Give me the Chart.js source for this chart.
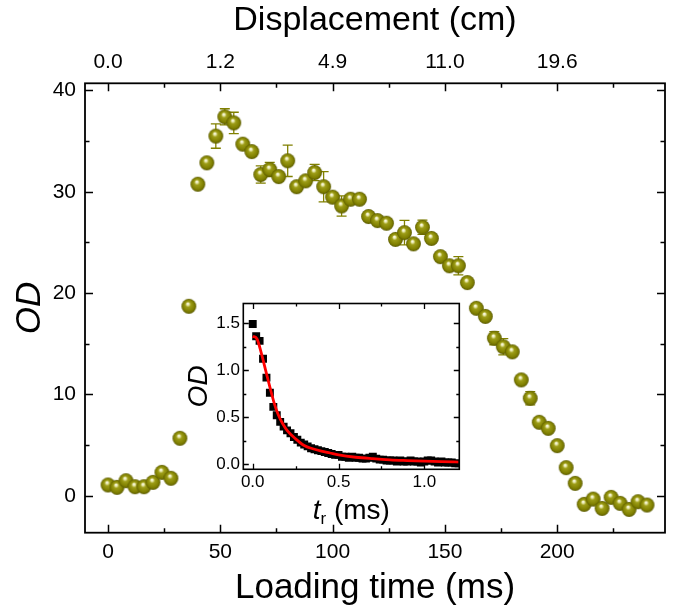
<!DOCTYPE html>
<html><head><meta charset="utf-8">
<script src="https://cdn.jsdelivr.net/npm/chart.js@4/dist/chart.umd.min.js"></script>
<style>
html,body{margin:0;padding:0;background:#fff;}
#wrap{position:relative;width:674px;height:610px;overflow:hidden;}
#main{position:absolute;left:0;top:0;}
#inset{position:absolute;left:180px;top:290px;}
</style></head><body>
<div id="wrap"><canvas id="main" width="674" height="610"></canvas><canvas id="inset" width="295" height="245"></canvas></div>
<script>
// ---------- data ----------
const loadingTime = [0,4,8,12,16,20,24,28,32,36,40,44,48,52,56,60,64,68,72,76,80,84,88,92,96,100,104,108,112,116,120,124,128,132,136,140,144,148,152,156,160,164,168,172,176,180,184,188,192,196,200,204,208,212,216,220,224,228,232,236,240];
const odValues = [1.06,0.83,1.48,0.89,0.89,1.32,2.31,1.72,5.67,18.7,30.75,32.86,35.5,37.4,36.8,34.7,33.97,31.7,32.2,31.5,33.06,30.5,31.08,31.9,30.5,29.47,28.6,29.27,29.27,27.56,27.16,26.9,25.3,25.97,24.86,26.5,25.4,23.6,22.7,22.7,21.04,18.5,17.7,15.55,14.7,14.2,11.43,9.62,7.25,6.65,4.94,2.77,1.22,-0.85,-0.33,-1.25,-0.16,-0.75,-1.35,-0.59,-0.92];
const odErrors = [0.3,0.3,0.3,0.3,0.3,0.3,0.3,0.3,0.3,0.3,0.3,0.3,1.2,0.8,1.05,0.3,0.3,0.85,0.7,0.3,1.55,0.3,0.3,0.8,1.5,0.3,1.0,0.3,0.3,0.3,0.3,0.3,0.3,1.2,0.3,0.7,0.3,0.3,0.3,0.9,0.3,0.3,0.3,0.65,0.8,0.3,0.3,0.65,0.3,0.3,0.3,0.3,0.3,0.3,0.3,0.3,0.3,0.3,0.3,0.3,0.3];
const xTicks = [0,50,100,150,200];
const xMinorTicks = [25,75,125,175,225];
const displacementLabels = ['0.0','1.2','4.9','11.0','19.6'];
const yTicks = [0,10,20,30,40];
const yMinorTicks = [5,15,25,35];

const insetTime = [0,0.02,0.04,0.06,0.08,0.10,0.12,0.14,0.16,0.18,0.20,0.22,0.24,0.26,0.28,0.30,0.32,0.34,0.36,0.38,0.40,0.42,0.44,0.46,0.48,0.50,0.52,0.54,0.56,0.58,0.60,0.62,0.64,0.66,0.68,0.70,0.72,0.74,0.76,0.78,0.80,0.82,0.84,0.86,0.88,0.90,0.92,0.94,0.96,0.98,1.00,1.02,1.04,1.06,1.08,1.10,1.12,1.14,1.16,1.18,1.20];
const insetOD = [1.49,1.36,1.31,1.12,0.92,0.76,0.61,0.52,0.45,0.40,0.36,0.33,0.29,0.26,0.23,0.21,0.19,0.17,0.16,0.15,0.14,0.13,0.12,0.11,0.10,0.10,0.08,0.08,0.07,0.08,0.07,0.07,0.06,0.06,0.07,0.08,0.06,0.05,0.05,0.04,0.04,0.04,0.03,0.04,0.03,0.03,0.04,0.03,0.03,0.02,0.03,0.04,0.04,0.03,0.02,0.03,0.02,0.02,0.02,0.01,0.01];
const fitTime = [0,0.025,0.05,0.075,0.10,0.125,0.15,0.175,0.20,0.25,0.30,0.35,0.40,0.45,0.50,0.60,0.70,0.80,0.90,1.00,1.10,1.20];
const fitOD = [1.36,1.33,1.18,1.00,0.82,0.65,0.52,0.43,0.36,0.27,0.20,0.165,0.14,0.12,0.10,0.075,0.06,0.048,0.04,0.033,0.028,0.024];
const insetXTicks = [0,0.5,1.0];
const insetXMinorTicks = [0.25,0.75];
const insetYTicks = [0,0.5,1.0,1.5];
const insetYMinorTicks = [0.25,0.75,1.25];

// ---------- styles ----------
const FONT = "'Liberation Sans', Arial, sans-serif";
Chart.defaults.font.family = FONT;
Chart.defaults.color = '#000';
const OLIVE = '#808000';

function makeSphere(r) {
  const c = document.createElement('canvas');
  const s = Math.ceil(r * 2 + 2);
  c.width = s; c.height = s;
  const g = c.getContext('2d');
  const cx = s / 2, cy = s / 2;
  const grad = g.createRadialGradient(cx - 1.2, cy - 2.8, 0, cx, cy, r);
  grad.addColorStop(0, '#ffffff');
  grad.addColorStop(0.17, '#eaeab0');
  grad.addColorStop(0.36, '#9e9e18');
  grad.addColorStop(0.8, '#7e7e00');
  grad.addColorStop(1, '#5a5a00');
  g.fillStyle = grad;
  g.beginPath(); g.arc(cx, cy, r, 0, Math.PI * 2); g.fill();
  return c;
}
const sphere = makeSphere(7.4);

function frameAndTicks(chart, cfg) {
  const {ctx, chartArea: a} = chart;
  const xs = chart.scales[cfg.x], ys = chart.scales[cfg.y];
  ctx.save();
  ctx.strokeStyle = '#000';
  ctx.lineWidth = cfg.lw;
  ctx.beginPath();
  const xm = cfg.xMajor.map(v => [v, cfg.major]).concat(cfg.xMinor.map(v => [v, cfg.minor]));
  const ym = cfg.yMajor.map(v => [v, cfg.major]).concat(cfg.yMinor.map(v => [v, cfg.minor]));
  for (const [v, len] of xm) {
    const p = Math.round(xs.getPixelForValue(v)) + 0.5;
    ctx.moveTo(p, a.bottom); ctx.lineTo(p, a.bottom - len);
    ctx.moveTo(p, a.top); ctx.lineTo(p, a.top + len);
  }
  for (const [v, len] of ym) {
    const p = Math.round(ys.getPixelForValue(v)) + 0.5;
    ctx.moveTo(a.left, p); ctx.lineTo(a.left + len, p);
    ctx.moveTo(a.right, p); ctx.lineTo(a.right - len, p);
  }
  ctx.stroke();
  ctx.lineWidth = cfg.frame;
  ctx.strokeRect(a.left, a.top, a.right - a.left, a.bottom - a.top);
  ctx.restore();
}

const mainPlugin = {
  id: 'mainDeco',
  beforeDatasetsDraw(chart) {
    const {ctx} = chart;
    const xs = chart.scales.x, ys = chart.scales.y;
    ctx.save();
    ctx.strokeStyle = OLIVE; ctx.lineWidth = 1.3;
    ctx.beginPath();
    loadingTime.forEach((t, i) => {
      const e = odErrors[i];
      if (!e) return;
      const px = xs.getPixelForValue(t);
      const y1 = ys.getPixelForValue(odValues[i] + e), y2 = ys.getPixelForValue(odValues[i] - e);
      ctx.moveTo(px, y1); ctx.lineTo(px, y2);
      ctx.moveTo(px - 5, y1); ctx.lineTo(px + 5, y1);
      ctx.moveTo(px - 5, y2); ctx.lineTo(px + 5, y2);
    });
    ctx.stroke();
    ctx.restore();
  },
  afterDraw(chart) {
    frameAndTicks(chart, {x: 'x', y: 'y', xMajor: xTicks, xMinor: xMinorTicks, yMajor: yTicks, yMinor: yMinorTicks, major: 8, minor: 4.5, lw: 1.5, frame: 1.8});
  }
};

new Chart(document.getElementById('main'), {
  type: 'scatter',
  data: {datasets: [{
    data: loadingTime.map((t, i) => ({x: t, y: odValues[i]})),
    pointStyle: sphere, pointRadius: 7.4, showLine: false
  }]},
  options: {
    responsive: false, animation: false, events: [], devicePixelRatio: 1,
    layout: {padding: {left: 0, right: 9, top: 0, bottom: 0}},
    plugins: {legend: {display: false}, tooltip: {enabled: false}},
    scales: {
      x: {
        type: 'linear', position: 'bottom', min: -10.25, max: 248,
        afterBuildTicks: s => { s.ticks = xTicks.map(v => ({value: v})); },
        afterFit: s => { s.height = 77.3; },
        ticks: {font: {size: 21}, color: '#000', padding: 6.5, maxRotation: 0, autoSkip: false},
        grid: {display: false, drawTicks: false}, border: {display: false},
        title: {display: true, text: 'Loading time (ms)', font: {size: 35}, color: '#000', padding: {top: 0, bottom: 1}}
      },
      x2: {
        type: 'linear', position: 'top', min: -10.25, max: 248,
        afterBuildTicks: s => { s.ticks = xTicks.map(v => ({value: v})); },
        afterFit: s => { s.height = 83.3; },
        ticks: {font: {size: 21}, color: '#000', padding: 8, maxRotation: 0, autoSkip: false,
          callback: v => displacementLabels[xTicks.indexOf(v)]},
        grid: {display: false, drawTicks: false}, border: {display: false},
        title: {display: true, text: 'Displacement (cm)', font: {size: 34}, color: '#000', padding: {top: 0, bottom: 0}}
      },
      y: {
        type: 'linear', position: 'left', min: -3.65, max: 40.71,
        afterBuildTicks: s => { s.ticks = yTicks.map(v => ({value: v})); },
        afterFit: s => { s.width = 85; },
        ticks: {font: {size: 21}, color: '#000', padding: 9, autoSkip: false},
        grid: {display: false, drawTicks: false}, border: {display: false},
        title: {display: true, text: 'OD', font: {size: 35, style: 'italic'}, color: '#000', padding: {top: 9, bottom: 0}}
      }
    }
  },
  plugins: [mainPlugin]
});

// ---------- inset ----------
const insetPlugin = {
  id: 'insetDeco',
  beforeDraw(chart) {
    const {ctx, chartArea: a} = chart;
    ctx.save(); ctx.fillStyle = '#fff';
    ctx.fillRect(a.left, a.top, a.right - a.left, a.bottom - a.top);
    ctx.restore();
  },
  afterDraw(chart) {
    frameAndTicks(chart, {x: 'x', y: 'y', xMajor: insetXTicks, xMinor: insetXMinorTicks, yMajor: insetYTicks, yMinor: insetYMinorTicks, major: 5.5, minor: 3, lw: 1.3, frame: 1.6});
    const {ctx, chartArea: a} = chart;
    ctx.save();
    ctx.fillStyle = '#000';
    ctx.textBaseline = 'alphabetic';
    const f1 = 'italic 28px ' + FONT, f2 = '17px ' + FONT, f3 = '28px ' + FONT;
    ctx.font = f1; const w1 = ctx.measureText('t').width;
    ctx.font = f2; const w2 = ctx.measureText('r').width;
    ctx.font = f3; const w3 = ctx.measureText(' (ms)').width;
    const total = w1 + w2 + w3;
    let x = (a.left + a.right) / 2 - total / 2;
    const base = 229;
    ctx.font = f1; ctx.fillText('t', x, base); x += w1;
    ctx.font = f2; ctx.fillText('r', x, base + 5); x += w2;
    ctx.font = f3; ctx.fillText(' (ms)', x, base);
    ctx.restore();
  }
};

new Chart(document.getElementById('inset'), {
  type: 'scatter',
  data: {datasets: [
    {data: fitTime.map((t, i) => ({x: t, y: fitOD[i]})), showLine: true, borderColor: '#ff0000', borderWidth: 2.8,
      pointRadius: 0, cubicInterpolationMode: 'monotone', order: 0},
    {data: insetTime.map((t, i) => ({x: t, y: insetOD[i]})), pointStyle: 'rect', pointRadius: 5.6,
      backgroundColor: '#000', borderColor: '#000', borderWidth: 0, order: 1}
  ]},
  options: {
    responsive: false, animation: false, events: [], devicePixelRatio: 1,
    layout: {padding: {left: 0, right: 15.7, top: 12.7, bottom: 0}},
    plugins: {legend: {display: false}, tooltip: {enabled: false}},
    scales: {
      x: {
        type: 'linear', position: 'bottom', min: -0.055, max: 1.204,
        afterBuildTicks: s => { s.ticks = insetXTicks.map(v => ({value: v})); },
        afterFit: s => { s.height = 65.7; },
        ticks: {font: {size: 17}, color: '#000', padding: 3, maxRotation: 0, autoSkip: false, callback: v => v.toFixed(1)},
        grid: {display: false, drawTicks: false}, border: {display: false}
      },
      y: {
        type: 'linear', position: 'left', min: -0.053, max: 1.707,
        afterBuildTicks: s => { s.ticks = insetYTicks.map(v => ({value: v})); },
        afterFit: s => { s.width = 63.3; },
        ticks: {font: {size: 17}, color: '#000', padding: 3.3, autoSkip: false, callback: v => v.toFixed(1)},
        grid: {display: false, drawTicks: false}, border: {display: false},
        title: {display: true, text: 'OD', font: {size: 28, style: 'italic'}, color: '#000', padding: {top: 2, bottom: 0}}
      }
    }
  },
  plugins: [insetPlugin]
});
</script>
</body></html>
